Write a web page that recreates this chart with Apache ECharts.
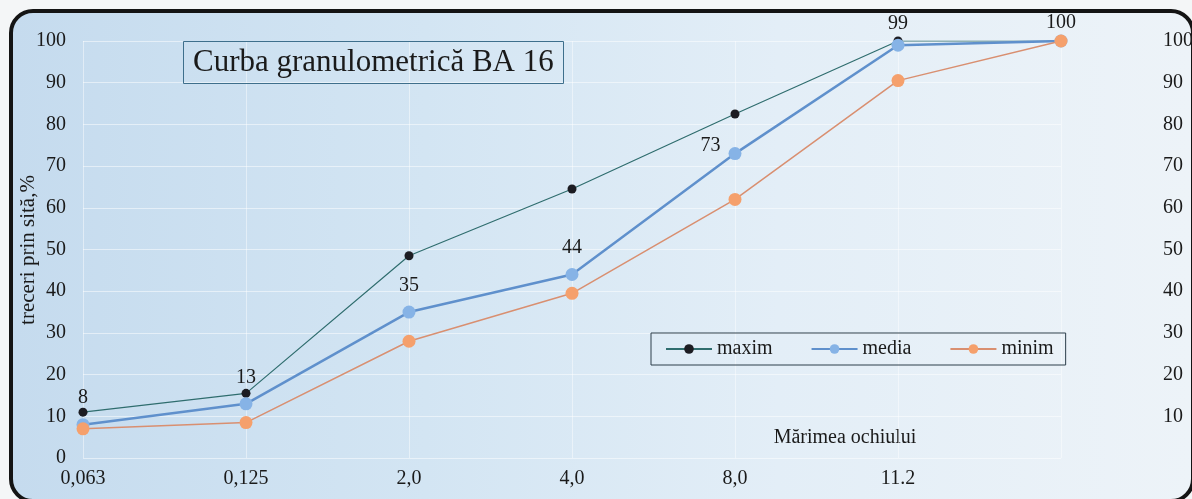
<!DOCTYPE html>
<html>
<head>
<meta charset="utf-8">
<script src="https://cdn.jsdelivr.net/npm/echarts@6/dist/echarts.min.js"></script>
<style>
  html, body { margin: 0; padding: 0; background: #f4f6f7; }
  #wrap { position: relative; width: 1192px; height: 499px; overflow: hidden; }
  #frame {
    position: absolute; left: 9px; top: 9px; width: 1178px; height: 486px;
    border: 4px solid #141414; border-radius: 24px;
    background: linear-gradient(90deg, #c5dbee 0%, #d3e5f3 35%, #e3eef7 65%, #edf3f8 100%);
  }
  #box { position: absolute; left: 0; top: 0; width: 1192px; height: 499px; }
</style>
</head>
<body>
<div id="wrap">
  <div id="frame"></div>
  <div id="box"></div>
</div>
<script>
var sizes = ['0,063', '0,125', '2,0', '4,0', '8,0', '11.2', ''];
var maxim = [11, 15.5, 48.5, 64.5, 82.5, 100, 100];
var media = [8, 13, 35, 44, 73, 99, 100];
var minim = [7, 8.5, 28, 39.5, 62, 90.5, 100];

var serif = '"Liberation Serif", "DejaVu Serif", serif';
var chart = echarts.init(document.getElementById('box'));

// label of the media series: mostly above the dot, 73 sits to the left
var mediaData = media.map(function(v, i) {
  var d = { value: v };
  if (i === 4) d.label = { position: 'left', distance: 8, offset: [0, -8] };
  if (i === 5) d.label = { distance: 5 };
  if (i === 6) d.label = { distance: 2 };
  return d;
});

var option = {
  backgroundColor: 'transparent',
  title: {
    text: 'Curba granulometrică BA 16',
    left: 183,
    top: 41,
    padding: [6, 10, 6, 10],
    borderWidth: 1,
    borderColor: '#3e6f8c',
    textStyle: { fontFamily: serif, fontSize: 31, fontWeight: 'normal', color: '#1a1a1a' }
  },
  legend: {
    data: ['maxim', 'media', 'minim'],
    left: 651,
    top: 333,
    padding: [6, 12, 6, 14],
    itemGap: 38,
    itemWidth: 46,
    itemHeight: 12,
    borderWidth: 1,
    borderColor: '#2c3e4a',
    textStyle: { fontFamily: serif, fontSize: 20, color: '#1a1a1a' }
  },
  grid: { left: 83, right: 131, top: 41, bottom: 41, outerBoundsMode: 'none' },
  graphic: [{
    type: 'text',
    x: 845,
    y: 438,
    style: {
      text: 'Mărimea ochiului', font: '20px ' + serif, fill: '#1a1a1a',
      align: 'center', verticalAlign: 'middle'
    }
  }, {
    type: 'text',
    x: 28,
    y: 250,
    rotation: Math.PI / 2,
    style: {
      text: 'treceri prin sită,%', font: '21px ' + serif, fill: '#1a1a1a',
      align: 'center', verticalAlign: 'middle'
    }
  }],
  xAxis: {
    type: 'category',
    boundaryGap: false,
    data: sizes,
    axisLine: { show: false },
    axisTick: { show: false },
    axisLabel: { fontFamily: serif, fontSize: 20, color: '#1a1a1a', margin: 11 },
    splitLine: { show: true, lineStyle: { color: 'rgba(255,255,255,0.45)', width: 1 } }
  },
  yAxis: [{
    type: 'value',
    min: 0,
    max: 100,
    interval: 10,
    axisLine: { show: false },
    axisTick: { show: false },
    axisLabel: { fontFamily: serif, fontSize: 20, color: '#1a1a1a', margin: 17 },
    splitLine: { lineStyle: { color: 'rgba(255,255,255,0.5)', width: 1 } }
  }, {
    type: 'value',
    min: 0,
    max: 100,
    interval: 10,
    position: 'right',
    axisLine: { show: false },
    axisTick: { show: false },
    splitLine: { show: false },
    axisLabel: {
      fontFamily: serif, fontSize: 20, color: '#1a1a1a', margin: 102,
      formatter: function(v) { return v === 0 ? '' : v; }
    }
  }],
  series: [{
    name: 'maxim',
    type: 'line',
    data: maxim,
    symbol: 'circle',
    symbolSize: 9,
    itemStyle: { color: '#1c1c22' },
    lineStyle: { color: '#2f6d6e', width: 1.2 }
  }, {
    name: 'media',
    type: 'line',
    data: mediaData,
    symbol: 'circle',
    symbolSize: 13,
    itemStyle: { color: '#86b3e6' },
    lineStyle: { color: '#5f90cc', width: 2.5 },
    label: {
      show: true,
      position: 'top',
      distance: 10,
      fontFamily: serif,
      fontSize: 20,
      color: '#1a1a1a'
    }
  }, {
    name: 'minim',
    type: 'line',
    data: minim,
    symbol: 'circle',
    symbolSize: 13,
    itemStyle: { color: '#f5a06c' },
    lineStyle: { color: '#d98f70', width: 1.5 }
  }]
};

chart.setOption(option);
</script>
</body>
</html>
